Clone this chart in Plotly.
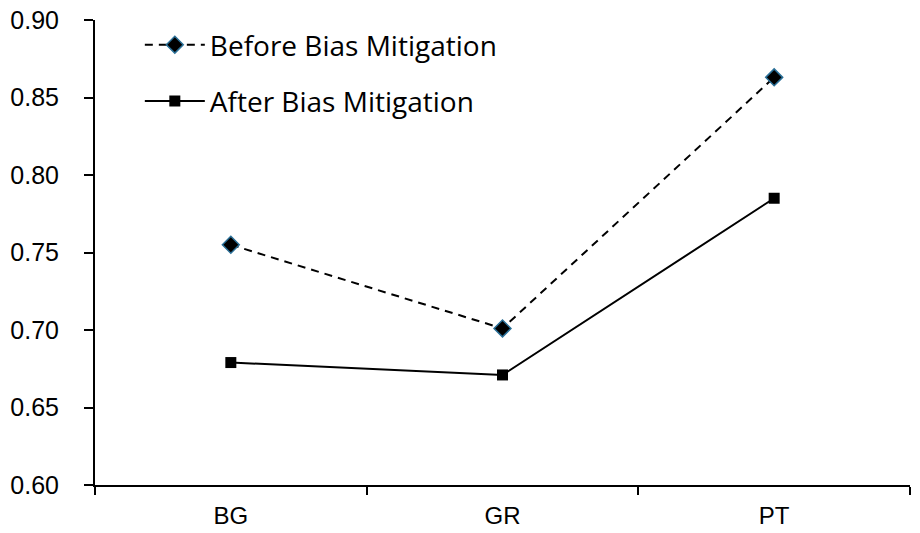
import plotly.graph_objects as go

categories = ["BG", "GR", "PT"]
before_vals = [0.755, 0.701, 0.863]
after_vals = [0.679, 0.671, 0.785]
y_ticks = [0.60, 0.65, 0.70, 0.75, 0.80, 0.85, 0.90]

fig = go.Figure()
fig.add_trace(go.Scatter(
    x=categories, y=before_vals, name="Before Bias Mitigation",
    mode="lines+markers", legendgroup="a",
    line=dict(color="black", width=2, dash="8px,6px"),
    marker=dict(symbol="diamond", size=13, color="black",
                line=dict(color="#2a6f97", width=1.5)),
))
fig.add_trace(go.Scatter(
    x=categories, y=after_vals, name="After Bias Mitigation",
    mode="lines+markers", legendgroup="b",
    line=dict(color="black", width=2),
    marker=dict(symbol="square", size=11, color="black"),
))

fig.update_layout(
    width=920, height=533,
    margin=dict(l=95, r=10, t=20, b=48),
    plot_bgcolor="white", paper_bgcolor="white",
    font=dict(family="Liberation Sans, Arial, sans-serif", color="black", size=24),
    legend=dict(x=0.055, y=1.0, xanchor="left", yanchor="top",
                font=dict(family="Open Sans, Inter, sans-serif", size=28),
                tracegroupgap=17, itemwidth=60, bgcolor="rgba(0,0,0,0)"),
    showlegend=True,
)
fig.update_xaxes(
    type="category", range=[-0.5, 2.5], showline=True, linecolor="black",
    linewidth=2, ticks="outside", tickson="boundaries", ticklen=8,
    tickwidth=2, tickcolor="black", showgrid=False, zeroline=False,
    tickfont=dict(size=24), ticklabelstandoff=8, automargin=False,
)
fig.update_yaxes(
    range=[0.60, 0.90], tickvals=y_ticks, tickformat=".2f",
    showline=True, linecolor="black", linewidth=2, ticks="outside",
    ticklen=9, tickwidth=2, tickcolor="black", showgrid=False,
    zeroline=False, tickfont=dict(size=25), ticklabelstandoff=20,
    automargin=False,
)

fig.write_html("out.html")
